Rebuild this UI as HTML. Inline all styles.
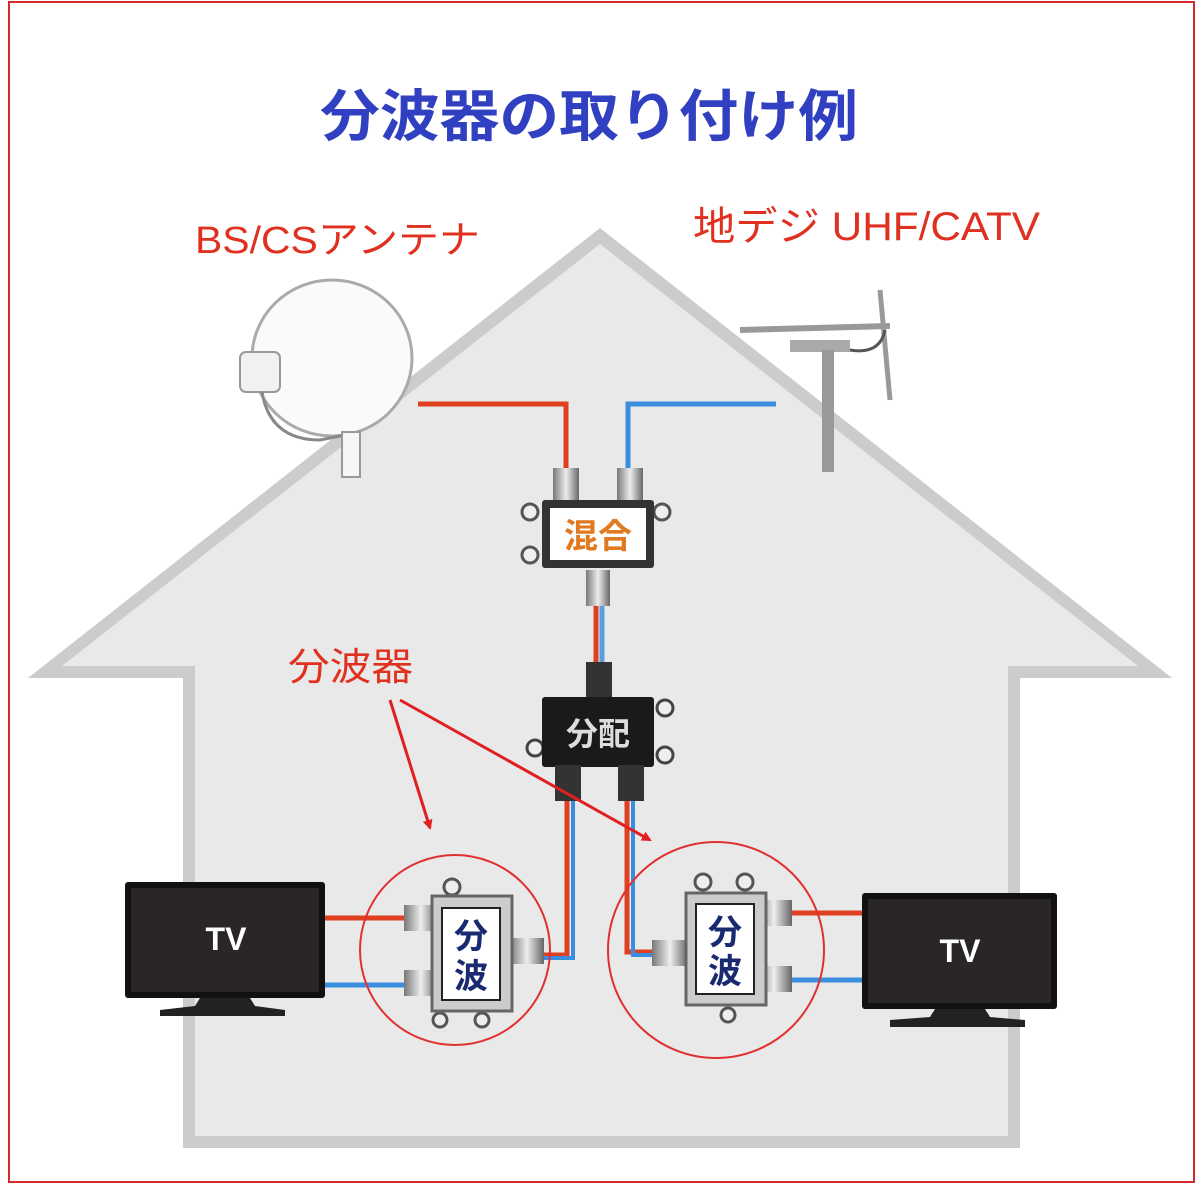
<!DOCTYPE html>
<html><head><meta charset="utf-8"><style>
html,body{margin:0;padding:0;background:#fff;}
svg{display:block;}
text{font-family:"Liberation Sans","Noto Sans CJK JP",sans-serif;}
</style></head><body>
<svg width="1200" height="1184" viewBox="0 0 1200 1184" xmlns="http://www.w3.org/2000/svg">
<defs>
<marker id="ah" markerWidth="10" markerHeight="10" refX="8" refY="5" orient="auto" markerUnits="userSpaceOnUse"><path d="M0,0 L10,5 L0,10 z" fill="#e02020"/></marker>
<linearGradient id="met" x1="0" x2="1"><stop offset="0" stop-color="#777"/><stop offset="0.5" stop-color="#eee"/><stop offset="1" stop-color="#666"/></linearGradient>
</defs>
<rect x="0" y="0" width="1200" height="1184" fill="#fff"/>
<rect x="9" y="2" width="1185" height="1180" fill="none" stroke="#d42a2a" stroke-width="2"/>
<polygon points="600,228 28,678 183,678 183,1148 1020,1148 1020,678 1172,678" fill="#cccccc"/>
<polygon points="600,244 62,666 195,666 195,1136 1008,1136 1008,666 1138,666" fill="#e9e9e9"/>
<text x="320" y="136" font-size="56" font-weight="bold" fill="#3040c0" textLength="538" lengthAdjust="spacingAndGlyphs">分波器の取り付け例</text>
<text x="195" y="253" font-size="38" fill="#e03020" textLength="285" lengthAdjust="spacingAndGlyphs">BS/CSアンテナ</text>
<text x="693" y="240" font-size="40" fill="#e03020" textLength="347" lengthAdjust="spacingAndGlyphs">地デジ UHF/CATV</text>
<ellipse cx="332" cy="358" rx="80" ry="78" fill="#fafafa" stroke="#aaa" stroke-width="3"/>
<rect x="240" y="352" width="40" height="40" rx="6" fill="#f2f2f2" stroke="#999" stroke-width="2"/>
<path d="M262,392 Q270,440 320,440 L360,432" fill="none" stroke="#888" stroke-width="3"/>
<rect x="342" y="432" width="18" height="45" fill="#f5f5f5" stroke="#999" stroke-width="2"/>
<line x1="740" y1="330" x2="890" y2="326" stroke="#999" stroke-width="6"/>
<line x1="880" y1="290" x2="890" y2="400" stroke="#999" stroke-width="5"/>
<rect x="790" y="340" width="60" height="12" fill="#aaa"/>
<rect x="822" y="350" width="12" height="122" fill="#999"/>
<path d="M850,350 Q880,355 885,330" fill="none" stroke="#555" stroke-width="3"/>
<polyline points="418,404 566,404 566,480" fill="none" stroke="#e04020" stroke-width="5"/>
<polyline points="776,404 628,404 628,480" fill="none" stroke="#3a8ee0" stroke-width="5"/>
<line x1="596" y1="605" x2="596" y2="668" stroke="#e04020" stroke-width="5"/>
<line x1="602" y1="605" x2="602" y2="668" stroke="#5aa0e0" stroke-width="5"/>
<polyline points="567,795 567,955 540,955" fill="none" stroke="#e04020" stroke-width="5"/>
<polyline points="573,795 573,958 540,958" fill="none" stroke="#3a8ee0" stroke-width="4"/>
<polyline points="627,795 627,952 660,952" fill="none" stroke="#e04020" stroke-width="5"/>
<polyline points="633,795 633,955 660,955" fill="none" stroke="#3a8ee0" stroke-width="4"/>
<line x1="325" y1="918" x2="408" y2="918" stroke="#e04020" stroke-width="5"/>
<line x1="325" y1="985" x2="408" y2="985" stroke="#3a8ee0" stroke-width="5"/>
<line x1="790" y1="913" x2="862" y2="913" stroke="#e04020" stroke-width="5"/>
<line x1="790" y1="980" x2="862" y2="980" stroke="#3a8ee0" stroke-width="5"/>
<rect x="553" y="468" width="26" height="38" fill="url(#met)"/>
<rect x="617" y="468" width="26" height="38" fill="url(#met)"/>
<circle cx="530" cy="512" r="8" fill="#eee" stroke="#555" stroke-width="3"/>
<circle cx="530" cy="555" r="8" fill="#eee" stroke="#555" stroke-width="3"/>
<circle cx="662" cy="512" r="8" fill="#eee" stroke="#555" stroke-width="3"/>
<rect x="542" y="500" width="112" height="68" fill="#333" rx="3"/>
<rect x="550" y="508" width="96" height="52" fill="#fff"/>
<text x="598" y="548" font-size="34" font-weight="bold" fill="#e07a20" text-anchor="middle">混合</text>
<rect x="586" y="570" width="24" height="36" fill="url(#met)"/>
<rect x="586" y="662" width="26" height="36" fill="#333"/>
<circle cx="665" cy="708" r="8" fill="#eee" stroke="#444" stroke-width="3"/>
<circle cx="535" cy="748" r="8" fill="#eee" stroke="#444" stroke-width="3"/>
<circle cx="665" cy="755" r="8" fill="#eee" stroke="#444" stroke-width="3"/>
<rect x="542" y="697" width="112" height="70" fill="#1a1a1a" rx="3"/>
<text x="598" y="745" font-size="32" font-weight="bold" fill="#ddd" text-anchor="middle">分配</text>
<rect x="555" y="765" width="26" height="36" fill="#333"/>
<rect x="618" y="765" width="26" height="36" fill="#333"/>
<text x="288" y="680" font-size="38" fill="#e03020" textLength="125" lengthAdjust="spacingAndGlyphs">分波器</text>
<line x1="390" y1="700" x2="430" y2="828" stroke="#e02020" stroke-width="3" marker-end="url(#ah)"/>
<line x1="400" y1="700" x2="650" y2="840" stroke="#e02020" stroke-width="3" marker-end="url(#ah)"/>
<circle cx="455" cy="950" r="95" fill="none" stroke="#e03030" stroke-width="2"/>
<circle cx="716" cy="950" r="108" fill="none" stroke="#e03030" stroke-width="2"/>
<circle cx="452" cy="887" r="8" fill="#eee" stroke="#555" stroke-width="3"/>
<circle cx="440" cy="1020" r="7" fill="#eee" stroke="#555" stroke-width="3"/>
<circle cx="482" cy="1020" r="7" fill="#eee" stroke="#555" stroke-width="3"/>
<rect x="404" y="905" width="34" height="26" fill="url(#met)"/>
<rect x="404" y="970" width="34" height="26" fill="url(#met)"/>
<rect x="510" y="938" width="34" height="26" fill="url(#met)"/>
<rect x="432" y="896" width="80" height="115" fill="#ccc" stroke="#666" stroke-width="3"/>
<rect x="442" y="908" width="58" height="92" fill="#fff" stroke="#222" stroke-width="2"/>
<text x="471" y="948" font-size="34" font-weight="bold" fill="#1a2a70" text-anchor="middle">分</text>
<text x="471" y="988" font-size="34" font-weight="bold" fill="#1a2a70" text-anchor="middle">波</text>
<circle cx="703" cy="882" r="8" fill="#eee" stroke="#555" stroke-width="3"/>
<circle cx="745" cy="882" r="8" fill="#eee" stroke="#555" stroke-width="3"/>
<circle cx="728" cy="1015" r="7" fill="#eee" stroke="#555" stroke-width="3"/>
<rect x="652" y="940" width="36" height="26" fill="url(#met)"/>
<rect x="756" y="900" width="36" height="26" fill="url(#met)"/>
<rect x="756" y="966" width="36" height="26" fill="url(#met)"/>
<rect x="686" y="893" width="80" height="112" fill="#ccc" stroke="#666" stroke-width="3"/>
<rect x="696" y="904" width="58" height="90" fill="#fff" stroke="#222" stroke-width="2"/>
<text x="725" y="944" font-size="34" font-weight="bold" fill="#1a2a70" text-anchor="middle">分</text>
<text x="725" y="983" font-size="34" font-weight="bold" fill="#1a2a70" text-anchor="middle">波</text>
<rect x="125" y="882" width="200" height="116" fill="#111" rx="3"/>
<rect x="131" y="888" width="188" height="104" fill="#2a2626"/>
<text x="226" y="950" font-size="32" font-weight="bold" fill="#fff" text-anchor="middle">TV</text>
<path d="M200,998 L250,998 L255,1006 L285,1010 L285,1016 L160,1016 L160,1010 L195,1006 Z" fill="#222"/>
<rect x="862" y="893" width="195" height="116" fill="#111" rx="3"/>
<rect x="868" y="899" width="183" height="104" fill="#2a2626"/>
<text x="960" y="962" font-size="32" font-weight="bold" fill="#fff" text-anchor="middle">TV</text>
<path d="M935,1009 L985,1009 L990,1017 L1025,1020 L1025,1027 L890,1027 L890,1020 L930,1017 Z" fill="#222"/>
</svg>
</body></html>
